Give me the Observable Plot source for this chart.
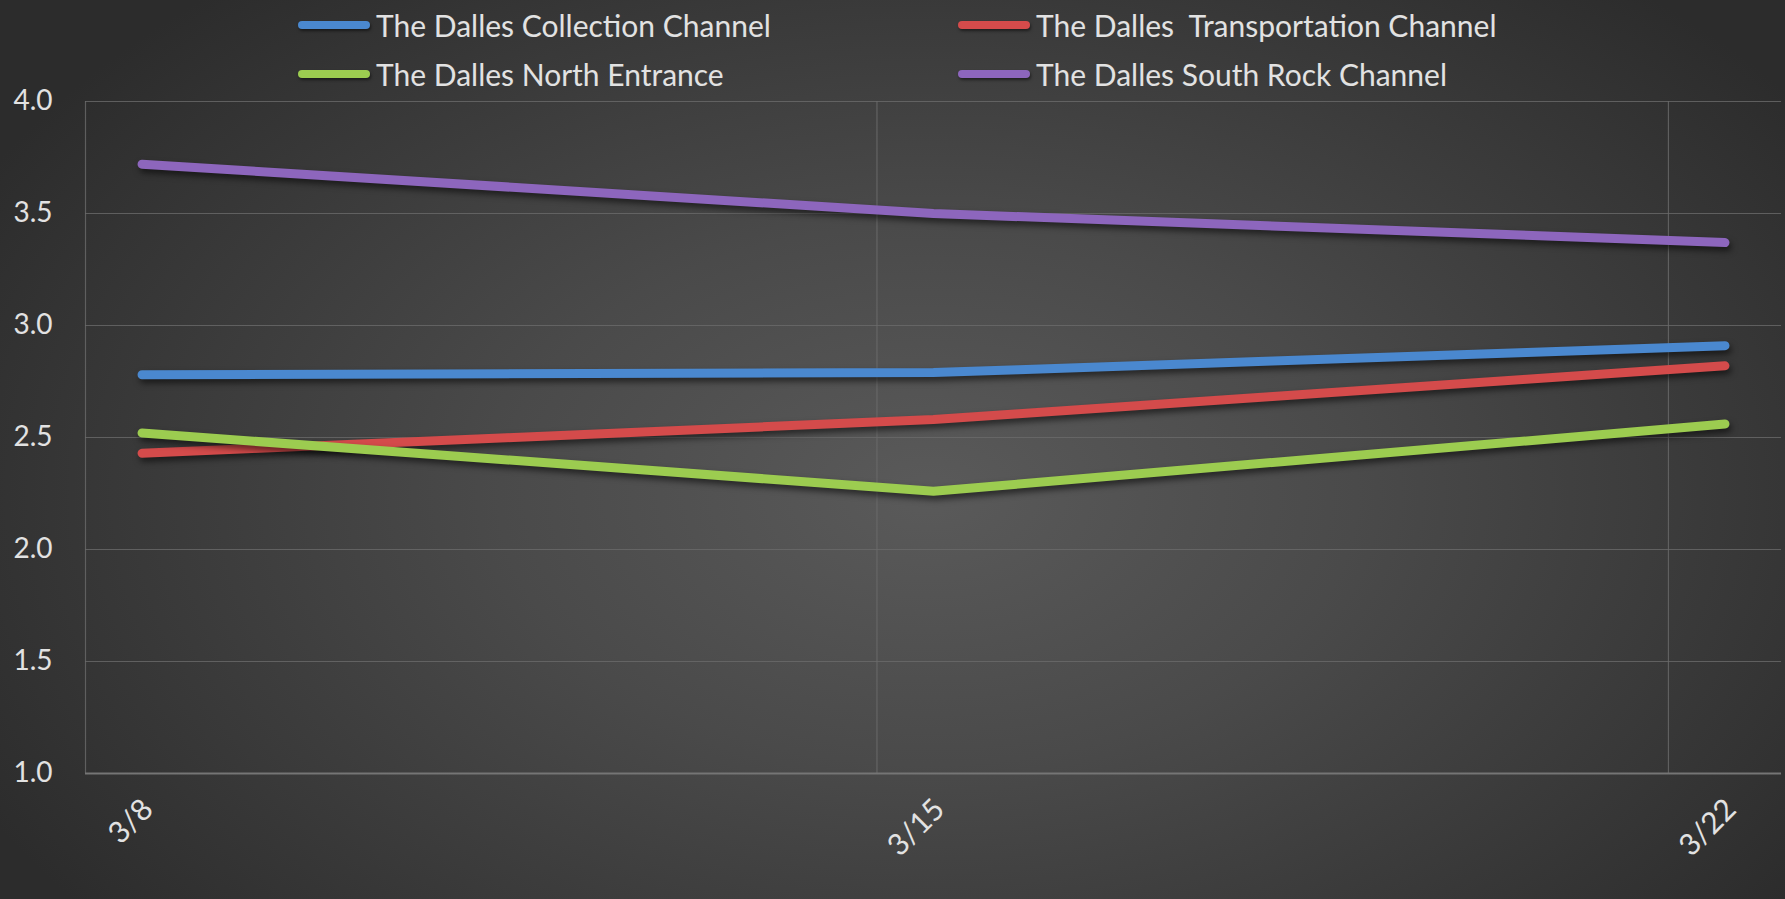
<!DOCTYPE html>
<html>
<head>
<meta charset="utf-8">
<script src="https://cdn.jsdelivr.net/npm/d3@7"></script>
<script src="https://cdn.jsdelivr.net/npm/@observablehq/plot@0.6"></script>
<style>
  html, body { margin: 0; padding: 0; background: #2a2a2a; }
  #wrap {
    position: relative; width: 1785px; height: 899px; overflow: hidden;
    background: radial-gradient(ellipse 60% 75% at 52% 55%, #5a5a5a 0%, #4a4a4a 40%, #2c2c2c 100%);
    font-family: Lato, "Open Sans", sans-serif;
  }
  #legend { position: absolute; left: 0; top: 0; width: 1785px; height: 100px; }
  .item { position: absolute; display: flex; align-items: center; height: 40px; color: #e2e2e2; font-size: 30px; white-space: pre; }
  .sw { width: 72px; height: 8px; border-radius: 4px; margin-right: 6px; box-shadow: 1px 2px 3px rgba(0,0,0,0.5); }
  #chart { position: absolute; left: 0; top: 0; }
  #chart svg g[aria-label="line"] path { filter: drop-shadow(2px 4px 3px rgba(0,0,0,0.55)); }
</style>
</head>
<body>
<div id="wrap">
  <div id="chart"></div>
  <div id="legend"></div>
</div>
<script>
// ---- data ----
const dateLabels = ["3/8", "3/15", "3/22"];
const dayOfMarch = [8, 15, 22];
const seriesNames = [
  "The Dalles Collection Channel",
  "The Dalles  Transportation Channel",
  "The Dalles North Entrance",
  "The Dalles South Rock Channel"
];
const collectionChannel = [2.78, 2.79, 2.91];
const transportationChannel = [2.43, 2.58, 2.82];
const northEntrance = [2.52, 2.26, 2.56];
const southRockChannel = [3.72, 3.50, 3.37];
const seriesColors = ["#4a88cf", "#d44b4b", "#9ccc50", "#8d66bd"];
const yTicks = [1.0, 1.5, 2.0, 2.5, 3.0, 3.5, 4.0];
const xGrid = [7.5, 14.5, 21.5];

const allValues = [collectionChannel, transportationChannel, northEntrance, southRockChannel];
const rows = [];
seriesNames.forEach((name, i) => {
  allValues[i].forEach((v, j) => rows.push({series: name, day: dayOfMarch[j], value: v}));
});
const xLabels = dateLabels.map((l, i) => ({label: l, day: dayOfMarch[i]}));

const textColor = "#e2e2e2";
const plot = Plot.plot({
  width: 1785,
  height: 899,
  marginLeft: 85,
  marginRight: 4,
  marginTop: 101,
  marginBottom: 126,
  style: {background: "transparent", fontFamily: "Lato, 'Open Sans', sans-serif", color: textColor, overflow: "visible"},
  x: {domain: [7.5, 22.5], axis: null},
  y: {domain: [1, 4], axis: null},
  color: {domain: seriesNames, range: seriesColors},
  marks: [
    Plot.ruleY(yTicks.slice(1), {stroke: "#6a6a6a", strokeWidth: 1.2, strokeOpacity: 0.8}),
    Plot.ruleX(xGrid, {stroke: "#6a6a6a", strokeWidth: 1.2, strokeOpacity: 0.8}),
    Plot.ruleY([1], {stroke: "#757575", strokeWidth: 2}),
    Plot.axisY(yTicks, {label: null, tickSize: 0, tickPadding: 33, fontSize: 28, tickFormat: d => d.toFixed(1), fill: textColor}),
    Plot.line(rows, {x: "day", y: "value", z: "series", stroke: "series", strokeWidth: 9, strokeLinecap: "round", strokeLinejoin: "round"}),
    Plot.text(xLabels, {x: "day", y: () => 1, text: "label", rotate: -45, textAnchor: "end", dx: 6, dy: 31, fontSize: 30, fill: textColor})
  ]
});
document.getElementById("chart").appendChild(plot);

// ---- legend ----
const legend = document.getElementById("legend");
const positions = [[298, 25], [958, 25], [298, 74], [958, 74]];
seriesNames.forEach((name, i) => {
  const it = document.createElement("div");
  it.className = "item";
  it.style.left = positions[i][0] + "px";
  it.style.top = (positions[i][1] - 20) + "px";
  const sw = document.createElement("span");
  sw.className = "sw";
  sw.style.background = seriesColors[i];
  const t = document.createElement("span");
  t.textContent = name;
  it.appendChild(sw); it.appendChild(t);
  legend.appendChild(it);
});
</script>
</body>
</html>
